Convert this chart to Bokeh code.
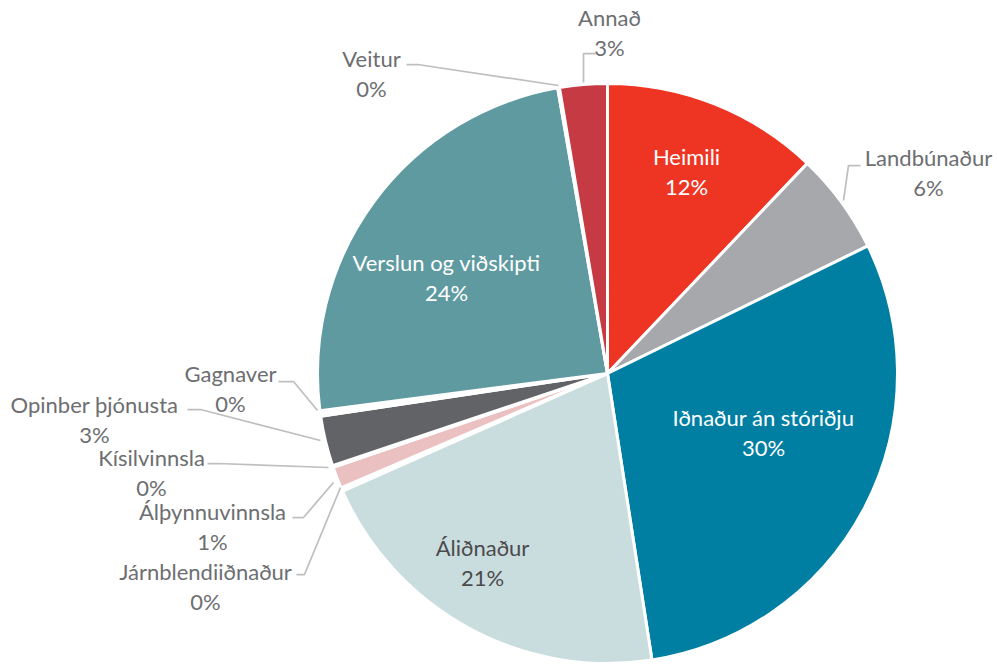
import math
from bokeh.plotting import figure
from bokeh.models import Range1d, ColumnDataSource
from bokeh.core.properties import value
from bokeh.embed import file_html
from bokeh.resources import INLINE

# ---- data ----
categories = ["Heimili", "Landbúnaður", "Iðnaður án stóriðju", "Áliðnaður",
              "Járnblendiiðnaður", "Álþynnuvinnsla", "Kísilvinnsla",
              "Opinber þjónusta", "Gagnaver", "Verslun og viðskipti",
              "Veitur", "Annað"]
shares = [12.1, 5.65, 29.8, 20.8, 0.2, 1.2, 0.1, 2.8, 0.3, 24.3, 0.1, 2.65]
colors = ["#EE3524", "#A7A8AB", "#007FA3", "#CADDDE", "#FFFFFF", "#EBC0C1",
          "#FFFFFF", "#626366", "#FFFFFF", "#5E9AA0", "#FFFFFF", "#C53A43"]
pct_labels = [f"{round(s)}%" for s in shares]

# ---- layout (screen pixel coords) ----
W, H = 997, 666
CX, CY, R = 607, 373, 290
# label centre x, cap-middle y of first line, text colour
label_layout = [
    (686, 156, "#FFFFFF"),
    (928, 157, "#6D6E71"),
    (763, 417, "#FFFFFF"),
    (482, 547, "#4A4A4D"),
    (205, 571, "#6D6E71"),
    (212, 511, "#6D6E71"),
    (151, 457, "#6D6E71"),
    (94, 404, "#6D6E71"),
    (230, 373, "#6D6E71"),
    (446, 262, "#FFFFFF"),
    (371, 58, "#6D6E71"),
    (609, 17, "#6D6E71"),
]
LINE_GAP = 29.5
FONT_PX = 22
BASE_OFF = 0  # baseline offset from cap-middle (empirical)

leaders = [
    [(595, 53), (583, 53), (583, 82)],          # Annað
    [(406, 64), (417, 64), (558, 85)],          # Veitur
    [(860, 165), (848, 165), (843, 200)],       # Landbúnaður
    [(278, 381), (293, 381), (317, 410)],       # Gagnaver
    [(187, 409), (200, 409), (320, 440)],       # Opinber þjónusta
    [(207, 463), (217, 463), (328, 467)],       # Kísilvinnsla
    [(292, 517), (303, 517), (333, 482)],       # Álþynnuvinnsla
    [(296, 574), (304, 574), (340, 487)],       # Járnblendiiðnaður
]

def fy(y):
    return H - y

total = sum(shares)
starts, ends = [], []
cum = 0.0
for s in shares:
    starts.append(math.pi / 2 - 2 * math.pi * cum / total)
    cum += s
    ends.append(math.pi / 2 - 2 * math.pi * cum / total)

src = ColumnDataSource(dict(
    cat=categories, share=shares, color=colors,
    start=starts, end=ends,
    x=[CX] * len(shares), y=[fy(CY)] * len(shares),
))

p = figure(width=W, height=H,
           x_range=Range1d(0, W), y_range=Range1d(0, H),
           output_backend="svg", toolbar_location=None, min_border=0)
p.axis.visible = False
p.grid.visible = False
p.outline_line_color = None
p.background_fill_color = "white"
p.border_fill_color = "white"

p.wedge(x="x", y="y", radius=R, start_angle="start", end_angle="end",
        direction="clock", fill_color="color", line_color="white",
        line_width=3, source=src)

p.multi_line(xs=[[pt[0] for pt in l] for l in leaders],
             ys=[[fy(pt[1]) for pt in l] for l in leaders],
             line_color="#BFBFBF", line_width=1.75)

lx = [l[0] for l in label_layout]
ly1 = [fy(l[1] + BASE_OFF) for l in label_layout]
ly2 = [fy(l[1] + LINE_GAP + BASE_OFF) for l in label_layout]
lc = [l[2] for l in label_layout]
tsrc = ColumnDataSource(dict(x=lx, y1=ly1, y2=ly2, name=categories,
                             pct=pct_labels, c=lc))
for col in ("name", "pct"):
    p.text(x="x", y="y1" if col == "name" else "y2", text=col, source=tsrc,
           text_color="c", text_align="center", text_baseline="alphabetic",
           text_font=value("Lato"), text_font_size=f"{FONT_PX}px")

open("out.html", "w").write(file_html(p, INLINE))
